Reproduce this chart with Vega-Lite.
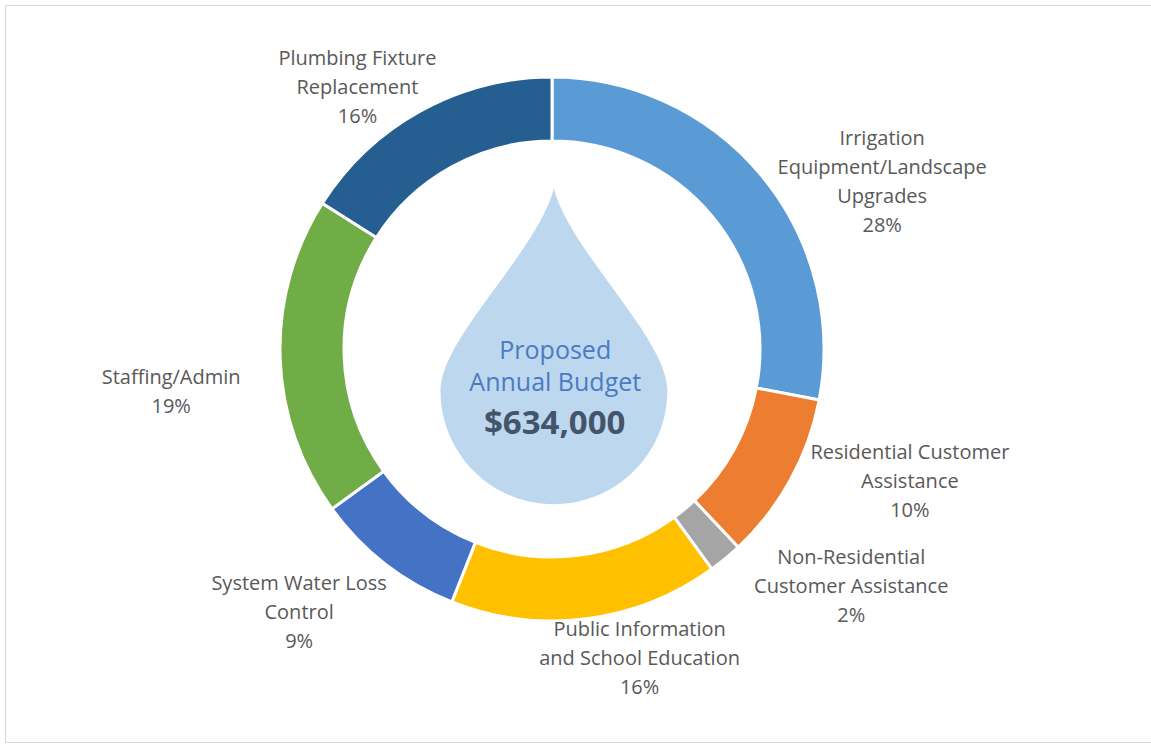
{
  "$schema": "https://vega.github.io/schema/vega-lite/v6.json",
  "width": 1151,
  "height": 746,
  "autosize": {"type": "fit", "contains": "padding"},
  "padding": {"left": 5, "top": 5, "right": 0, "bottom": 4},
  "background": "white",
  "config": {"view": {"stroke": "#d6d6d6", "strokeWidth": 1}},
  "datasets": {
    "budget": [
      {"order": 1, "category": "Irrigation Equipment/Landscape Upgrades", "label": "Irrigation\nEquipment/Landscape\nUpgrades\n28%", "value": 28},
      {"order": 2, "category": "Residential Customer Assistance", "label": "Residential Customer\nAssistance\n10%", "value": 10},
      {"order": 3, "category": "Non-Residential Customer Assistance", "label": "Non-Residential\nCustomer Assistance\n2%", "value": 2},
      {"order": 4, "category": "Public Information and School Education", "label": "Public Information\nand School Education\n16%", "value": 16},
      {"order": 5, "category": "System Water Loss Control", "label": "System Water Loss\nControl\n9%", "value": 9},
      {"order": 6, "category": "Staffing/Admin", "label": "Staffing/Admin\n19%", "value": 19},
      {"order": 7, "category": "Plumbing Fixture Replacement", "label": "Plumbing Fixture\nReplacement\n16%", "value": 16}
    ]
  },
  "layer": [
    {
      "data": {"name": "budget"},
      "mark": {"type": "arc", "outerRadius": 272, "innerRadius": 208, "stroke": "white", "strokeWidth": 3},
      "encoding": {
        "x": {"datum": 0, "type": "quantitative", "scale": {"domain": [-2.011, 2.2022], "nice": false, "zero": false}, "axis": null},
        "y": {"datum": 0, "type": "quantitative", "scale": {"domain": [-1.4449, 1.2647], "nice": false, "zero": false}, "axis": null},
        "theta": {"field": "value", "type": "quantitative", "stack": true},
        "order": {"field": "order", "type": "quantitative"},
        "color": {
          "field": "category",
          "type": "nominal",
          "scale": {
            "domain": ["Irrigation Equipment/Landscape Upgrades", "Residential Customer Assistance", "Non-Residential Customer Assistance", "Public Information and School Education", "System Water Loss Control", "Staffing/Admin", "Plumbing Fixture Replacement"],
            "range": ["#5B9BD5", "#ED7D31", "#A5A5A5", "#FFC000", "#4472C4", "#70AD47", "#255E91"]
          },
          "legend": null
        }
      }
    },
    {
      "data": {"values": [{"shape": "drop"}]},
      "mark": {
        "type": "point",
        "shape": "M0,-1C0.1,-0.6,0.72,-0.05,0.718,0.282A0.718,0.718,0,0,1,-0.718,0.282C-0.72,-0.05,-0.1,-0.6,0,-1Z",
        "size": 99856,
        "filled": true,
        "fill": "#BDD7EE",
        "opacity": 1,
        "strokeWidth": 0
      },
      "encoding": {
        "x": {"datum": 0.007, "type": "quantitative"},
        "y": {"datum": 0.01, "type": "quantitative"}
      }
    },
    {
      "data": {"values": [{"line": "title"}]},
      "mark": {"type": "text", "font": "Open Sans", "fontSize": 25, "fill": "#4A7BC2", "align": "center", "baseline": "middle", "lineHeight": 32},
      "encoding": {
        "x": {"datum": 0.012, "type": "quantitative"},
        "y": {"datum": -0.0074, "type": "quantitative"},
        "text": {"value": ["Proposed", "Annual Budget"]}
      }
    },
    {
      "data": {"values": [{"line": "amount"}]},
      "mark": {"type": "text", "font": "Open Sans", "fontSize": 33, "fontWeight": "bold", "fill": "#44546A", "align": "center", "baseline": "middle"},
      "encoding": {
        "x": {"datum": 0.01, "type": "quantitative"},
        "y": {"datum": -0.276, "type": "quantitative"},
        "text": {"value": "$634,000"}
      }
    },
    {
      "data": {"name": "budget"},
      "mark": {
        "type": "text",
        "radius": 300,
        "font": "Open Sans",
        "fontSize": 20,
        "fill": "#595959",
        "align": "center",
        "baseline": "middle",
        "lineBreak": "\n",
        "lineHeight": 29,
        "dx": {"expr": "[0, 99, 95, 108, 50, -69, -81, -50][datum.order]"},
        "dy": {"expr": "[0, -18.5, -41, -22, -17, -2, 19.5, -27][datum.order]"}
      },
      "encoding": {
        "x": {"datum": 0, "type": "quantitative"},
        "y": {"datum": 0, "type": "quantitative"},
        "theta": {"field": "value", "type": "quantitative", "stack": true},
        "order": {"field": "order", "type": "quantitative"},
        "detail": {"field": "category", "type": "nominal"},
        "text": {"field": "label", "type": "nominal"}
      }
    }
  ]
}
